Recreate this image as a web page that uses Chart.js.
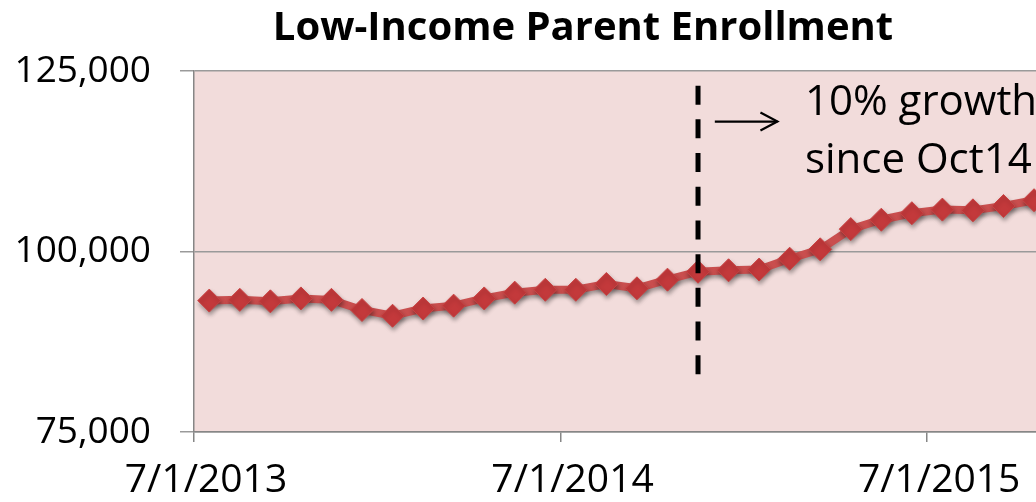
<!DOCTYPE html>
<html><head><meta charset="utf-8">
<script src="https://cdn.jsdelivr.net/npm/chart.js@4.4.0/dist/chart.umd.min.js"></script>
<style>
html,body{margin:0;padding:0;background:#fff;overflow:hidden;width:1036px;height:502px}
#wrap{position:relative;width:1166px;height:502px}
</style></head>
<body><div id="wrap"><canvas id="c" width="1166" height="502"></canvas></div>
<script>
// ---- data ----
const months = ['Jul-13','Aug-13','Sep-13','Oct-13','Nov-13','Dec-13','Jan-14','Feb-14','Mar-14','Apr-14','May-14','Jun-14',
                'Jul-14','Aug-14','Sep-14','Oct-14','Nov-14','Dec-14','Jan-15','Feb-15','Mar-15','Apr-15','May-15','Jun-15',
                'Jul-15','Aug-15','Sep-15','Oct-15'];
const enrollment = [93200,93300,93100,93500,93300,91900,91100,92100,92500,93500,94300,94700,
                    94700,95500,94900,96100,97200,97400,97500,99000,100300,103100,104400,105300,
                    105800,105700,106300,107100];
const tickMonths = [0,12,24];
const tickLabels = ['7/1/2013','7/1/2014','7/1/2015'];
const yTicks = [75000,100000,125000];
const markerIndex = 16;              // vertical dashed marker at Nov-14 point
const markerRange = [83000,123000];
const arrowMonths = [17.05,19.1];
const arrowValue = 118000;
const noteMonth = 20.0;
const noteLines = ['10% growth','since Oct14'];
const noteValues = [120600,112500];

const FONT = "'Open Sans', 'DejaVu Sans', sans-serif";
const points = enrollment.map((v,i)=>({x:i+0.5,y:v}));
const markerPts = markerRange.map(v=>({x:markerIndex+0.5,y:v}));

const bgPlugin = {
  id:'bg',
  beforeDraw(chart){
    const {ctx,chartArea:a}=chart;
    ctx.save();ctx.fillStyle='#f2dcdb';
    ctx.fillRect(a.left,a.top,a.right-a.left,a.bottom-a.top);
    ctx.restore();
  }
};
const shadowPlugin = {
  id:'shadow',
  beforeDatasetDraw(chart,args){
    if(args.index===1){const c=chart.ctx;c.save();c.shadowColor='rgba(0,0,0,0.35)';c.shadowBlur=4;c.shadowOffsetX=1;c.shadowOffsetY=3;}
  },
  afterDatasetDraw(chart,args){ if(args.index===1){chart.ctx.restore();} }
};
const notePlugin = {
  id:'note',
  afterDraw(chart){
    const {ctx,scales:{x,y}}=chart;
    ctx.save();
    const x0=x.getPixelForValue(arrowMonths[0]), x1=x.getPixelForValue(arrowMonths[1]), ya=y.getPixelForValue(arrowValue);
    ctx.strokeStyle='#000';ctx.lineWidth=2.2;ctx.lineCap='butt';
    ctx.beginPath();ctx.moveTo(x0,ya);ctx.lineTo(x1,ya);ctx.stroke();
    ctx.beginPath();ctx.moveTo(x1-17,ya-9);ctx.lineTo(x1,ya);ctx.lineTo(x1-17,ya+9);ctx.stroke();
    ctx.fillStyle='#000';ctx.font='42px '+FONT;ctx.textBaseline='middle';ctx.textAlign='left';
    const xt=x.getPixelForValue(noteMonth);
    noteLines.forEach((t,i)=>ctx.fillText(t,xt,y.getPixelForValue(noteValues[i])));
    ctx.restore();
  }
};

new Chart(document.getElementById('c'),{
  type:'line',
  data:{datasets:[
    {label:'marker',data:markerPts,borderColor:'#000',borderWidth:5,borderDash:[19,14.7],pointRadius:0,order:0,borderCapStyle:'butt'},
    {label:'Low-Income Parent Enrollment',data:points,borderColor:'#c94e4e',borderWidth:8,tension:0,
     pointStyle:'rectRot',pointRadius:11.5,pointBorderWidth:1,pointBackgroundColor:'#c3393b',pointBorderColor:'#c94444',order:1}
  ]},
  options:{
    responsive:false,animation:false,
    layout:{autoPadding:false,padding:{left:0,right:0,top:0,bottom:0}},
    plugins:{
      legend:{display:false},tooltip:{enabled:false},
      title:{display:true,text:'Low-Income Parent Enrollment',color:'#000',
        font:{family:FONT,size:40,weight:'bold'},padding:{top:5,bottom:18}}
    },
    scales:{
      x:{type:'linear',min:0,max:31.82,
        afterBuildTicks(s){s.ticks=tickMonths.map(v=>({value:v}));},
        afterFit(s){s.height=70;},
        ticks:{callback:(v)=>tickLabels[tickMonths.indexOf(v)],font:{family:FONT,size:39},color:'#000',padding:15,labelOffset:12,maxRotation:0,autoSkip:false},
        grid:{drawOnChartArea:false,drawTicks:true,tickLength:10,color:'#868686',lineWidth:1.5},
        border:{color:'#868686',width:1.5}
      },
      y:{min:75000,max:125000,
        afterBuildTicks(s){s.ticks=yTicks.map(v=>({value:v}));},
        afterFit(s){s.width=194;},
        ticks:{callback:(v)=>v.toLocaleString('en-US'),font:{family:FONT,size:37},color:'#000',padding:29},
        grid:{color:'#9a9a9a',lineWidth:1.5,tickLength:14,drawTicks:true},
        border:{color:'#868686',width:1.5}
      }
    }
  },
  plugins:[bgPlugin,shadowPlugin,notePlugin]
});
</script></body></html>
